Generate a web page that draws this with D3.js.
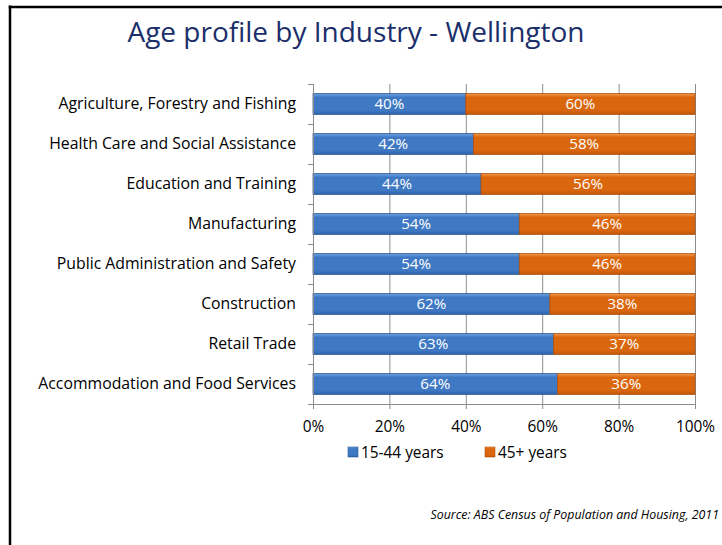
<!DOCTYPE html>
<html>
<head>
<meta charset="utf-8">
<script src="https://d3js.org/d3.v7.min.js"></script>
<style>
	body { margin: 0; background: #fff; }
	svg { display: block; font-family: "Open Sans", sans-serif; }
</style>
</head>
<body>
<svg id="chart" width="722" height="545"></svg>
<script>
const industries = [
	"Agriculture, Forestry and Fishing",
	"Health Care and Social Assistance",
	"Education and Training",
	"Manufacturing",
	"Public Administration and Safety",
	"Construction",
	"Retail Trade",
	"Accommodation and Food Services"
];
const young = [40, 42, 44, 54, 54, 62, 63, 64];
const older = [60, 58, 56, 46, 46, 38, 37, 36];
const seriesNames = ["15-44 years", "45+ years"];
const ticks = [0, 20, 40, 60, 80, 100];

const colors = {
	blue: { top: "#6FA2DE", mid: "#3F79C4", bottom: "#2F62A8", stroke: "#2B5A9A" },
	orange: { top: "#F4994F", mid: "#DA670E", bottom: "#BE570A", stroke: "#B0520C" }
};
const fontSize = 15.4;

const svg = d3.select("#chart");

// frame: only left and top edges show
svg.append("line").attr("x1", 10).attr("x2", 10).attr("y1", 5.5).attr("y2", 545)
	.attr("stroke", "#000").attr("stroke-width", 2.5);
svg.append("line").attr("x1", 8.75).attr("x2", 722).attr("y1", 7).attr("y2", 7)
	.attr("stroke", "#000").attr("stroke-width", 2.5);

// gradients
const defs = svg.append("defs");
Object.entries(colors).forEach(([k, c]) => {
	let g = defs.append("linearGradient").attr("id", "grad-" + k)
		.attr("x1", 0).attr("y1", 0).attr("x2", 0).attr("y2", 1);
	g.append("stop").attr("offset", "0%").attr("stop-color", c.top);
	g.append("stop").attr("offset", "18%").attr("stop-color", c.mid);
	g.append("stop").attr("offset", "80%").attr("stop-color", c.mid);
	g.append("stop").attr("offset", "100%").attr("stop-color", c.bottom);
});

svg.append("text")
	.attr("x", 356).attr("y", 42)
	.attr("text-anchor", "middle")
	.attr("font-size", 28)
	.attr("fill", "#1B2F6B")
	.text("Age profile by Industry - Wellington");

const margin = { left: 313, right: 27, top: 84, bottom: 141 };
const width = 722 - margin.left - margin.right;
const height = 545 - margin.top - margin.bottom;

const x = d3.scaleLinear().domain([0, 100]).range([0, width]);
const y = d3.scaleBand().domain(industries).range([0, height]).paddingInner(0.48).paddingOuter(0.24);

const g = svg.append("g").attr("transform", `translate(${margin.left},${margin.top})`);

// gridlines
g.append("g").selectAll("line").data(ticks.slice(1)).join("line")
	.attr("x1", d => x(d) + 0.5).attr("x2", d => x(d) + 0.5)
	.attr("y1", 0).attr("y2", height)
	.attr("stroke", "#8C8C8C").attr("stroke-width", 1);

const rows = industries.map((name, i) => ({ name, young: young[i], older: older[i] }));

const segs = [];
rows.forEach(r => {
	segs.push({ name: r.name, x0: 0, x1: r.young, v: r.young, key: "blue" });
	segs.push({ name: r.name, x0: r.young, x1: 100, v: r.older, key: "orange" });
});

g.selectAll("rect.bar").data(segs).join("rect")
	.attr("class", "bar")
	.attr("x", d => x(d.x0))
	.attr("y", d => y(d.name))
	.attr("width", d => x(d.x1) - x(d.x0))
	.attr("height", y.bandwidth())
	.attr("fill", d => "url(#grad-" + d.key + ")")
	.attr("stroke", d => colors[d.key].stroke)
	.attr("stroke-width", 0.8);

g.selectAll("text.val").data(segs).join("text")
	.attr("class", "val")
	.attr("x", d => x((d.x0 + d.x1) / 2))
	.attr("y", d => y(d.name) + y.bandwidth() / 2)
	.attr("dy", "0.36em")
	.attr("text-anchor", "middle")
	.attr("font-size", 15.2)
	.attr("fill", "#fff")
	.text(d => d.v + "%");

// y axis
const yAxis = g.append("g")
	.call(d3.axisLeft(y).tickSize(0).tickPadding(17));
yAxis.select(".domain").remove();
yAxis.selectAll("text").attr("font-size", 15.8).attr("fill", "#000").attr("font-family", "Open Sans, sans-serif");
// category separator ticks
g.append("g").selectAll("line").data(d3.range(industries.length + 1)).join("line")
	.attr("x1", -5).attr("x2", 0)
	.attr("y1", d => Math.round(d * height / industries.length) + 0.5)
	.attr("y2", d => Math.round(d * height / industries.length) + 0.5)
	.attr("stroke", "#8C8C8C");
g.append("line").attr("x1", 0.5).attr("x2", 0.5).attr("y1", 0).attr("y2", height)
	.attr("stroke", "#8C8C8C");

// x axis
const xAxis = g.append("g").attr("transform", `translate(0,${height})`)
	.call(d3.axisBottom(x).tickValues(ticks).tickFormat(d => d + "%").tickSize(5).tickPadding(12));
xAxis.select(".domain").attr("stroke", "#8C8C8C");
xAxis.selectAll("line").attr("stroke", "#8C8C8C");
xAxis.selectAll("text").attr("font-size", fontSize).attr("fill", "#000").attr("font-family", "Open Sans, sans-serif");

// legend
const legend = svg.append("g").attr("transform", "translate(348,452)");
const legendX = [0, 137];
seriesNames.forEach((s, i) => {
	const k = i === 0 ? "blue" : "orange";
	const lg = legend.append("g").attr("transform", `translate(${legendX[i]},0)`);
	lg.append("rect").attr("x", 0).attr("y", -5).attr("width", 10).attr("height", 10)
		.attr("fill", "url(#grad-" + k + ")").attr("stroke", colors[k].stroke).attr("stroke-width", 0.6);
	lg.append("text").attr("x", 13).attr("y", 0).attr("dy", "0.36em")
		.attr("font-size", fontSize).text(s);
});

svg.append("text")
	.attr("x", 719).attr("y", 519)
	.attr("text-anchor", "end")
	.attr("font-size", 12.4)
	.attr("font-style", "italic")
	.text("Source: ABS Census of Population and Housing, 2011");
</script>
</body>
</html>
